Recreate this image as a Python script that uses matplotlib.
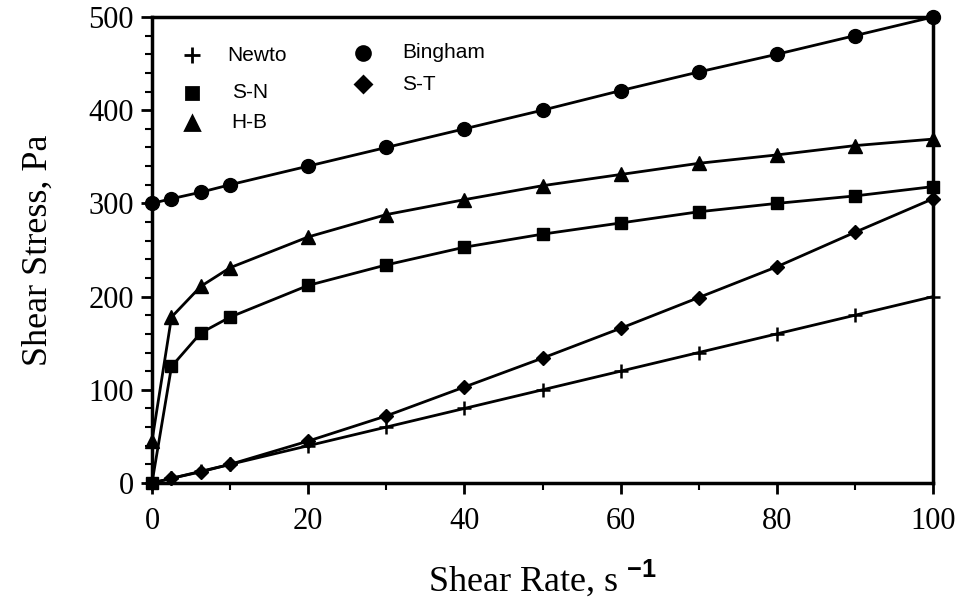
import matplotlib
matplotlib.use("Agg")
import matplotlib.pyplot as plt
from matplotlib.ticker import MultipleLocator

# shear rate values (s^-1)
rate = [0, 2.5, 6.25, 10, 20, 30, 40, 50, 60, 70, 80, 90, 100]

newton = [0, 5, 12.5, 20, 40, 60, 80, 100, 120, 140, 160, 180, 200]
bingham = [300, 305, 312, 320, 340, 360, 380, 400, 421, 441, 460, 480, 500]
sn = [0, 125, 161, 178, 212, 234, 253, 267, 279, 291, 300, 308, 318]
hb = [45, 178, 211, 231, 264, 288, 304, 319, 331, 343, 352, 362, 369]
st = [0, 5, 12, 20, 45, 72, 103, 134, 166, 199, 232, 269, 305]

serif = "Liberation Serif"
sans = "Liberation Sans"

plt.rcParams["mathtext.fontset"] = "custom"
plt.rcParams["mathtext.bf"] = "Liberation Sans:bold"
plt.rcParams["mathtext.rm"] = "Liberation Serif"

fig = plt.figure(figsize=(9.57, 5.98), dpi=100)
ax = fig.add_axes([0.1588, 0.1923, 0.8162, 0.7793])

style = dict(color="black", lw=2, clip_on=False)
ax.plot(rate, newton, marker="+", ms=10, mew=1.8, **style)
ax.plot(rate, bingham, marker="o", ms=10, **style)
ax.plot(rate, sn, marker="s", ms=9, **style)
ax.plot(rate, hb, marker="^", ms=9.5, **style)
ax.plot(rate, st, marker="D", ms=7.5, **style)

ax.set_xlim(0, 100)
ax.set_ylim(0, 500)
ax.xaxis.set_major_locator(MultipleLocator(20))
ax.xaxis.set_minor_locator(MultipleLocator(10))
ax.yaxis.set_major_locator(MultipleLocator(100))
ax.yaxis.set_minor_locator(MultipleLocator(20))
ax.tick_params(which="major", direction="out", length=8, width=2, labelsize=22)
ax.tick_params(axis="x", which="major", pad=9)
ax.tick_params(axis="y", which="major", pad=5)
ax.tick_params(which="minor", direction="out", length=5, width=1.5)
for lab in ax.get_xticklabels() + ax.get_yticklabels():
    lab.set_family(serif)
for s in ax.spines.values():
    s.set_linewidth(2.5)

ax.set_xlabel("Shear Rate, s $^{\\mathbf{-1}}$", family=serif, fontsize=26, labelpad=16)
ax.set_ylabel("Shear Stress, Pa", family=serif, fontsize=26, labelpad=24)

# legend drawn as marker + text entries (axes fractions)
leg_marker = ["+", "s", "^", "o", "D"]
leg_names = ["Newto", "S-N", "H-B", "Bingham", "S-T"]
leg_x = [0.051, 0.051, 0.051, 0.270, 0.270]
leg_tx = [0.097, 0.102, 0.102, 0.320, 0.320]
leg_y = [0.918, 0.837, 0.773, 0.923, 0.856]
leg_ms = [11, 9, 10, 10, 8]
for m, name, x, tx, y, size in zip(leg_marker, leg_names, leg_x, leg_tx, leg_y, leg_ms):
    ax.plot([x], [y], marker=m, ms=size, mew=2, color="black",
            transform=ax.transAxes, linestyle="none")
    ax.text(tx, y, name, transform=ax.transAxes,
            family=sans, fontsize=15, va="center", ha="left")

fig.savefig("out.png", dpi=100)
